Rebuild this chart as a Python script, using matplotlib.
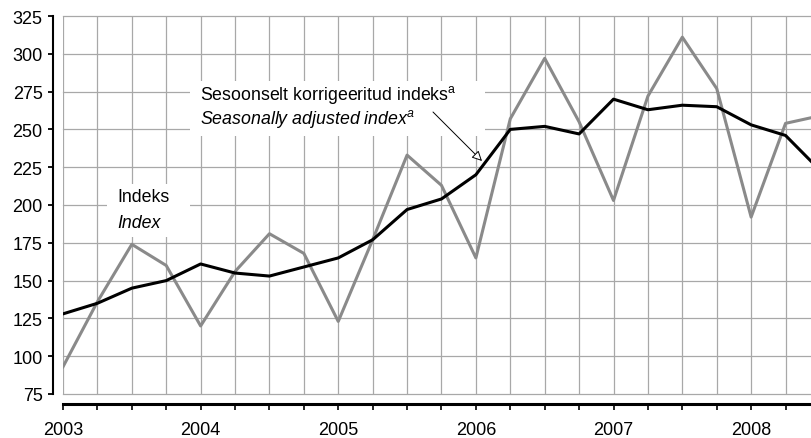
import matplotlib
matplotlib.use('Agg')
from matplotlib import pyplot as plt
from matplotlib.patches import Rectangle

plt.rcParams['font.family'] = ['Liberation Sans', 'DejaVu Sans']
plt.rcParams['mathtext.fontset'] = 'custom'
plt.rcParams['mathtext.rm'] = 'Liberation Sans'
plt.rcParams['mathtext.it'] = 'Liberation Sans:italic'

# quarterly data 2003 Q1 .. 2008 Q3
years = ['2003', '2004', '2005', '2006', '2007', '2008']
index_vals = [93, 136, 174, 160, 120, 156, 181, 168, 123, 177, 233, 213,
              165, 257, 297, 255, 203, 272, 311, 277, 192, 254, 259]
adjusted_vals = [128, 135, 145, 150, 161, 155, 153, 159, 165, 177, 197, 204,
                 220, 250, 252, 247, 270, 263, 266, 265, 253, 246, 223]

W, H = 811, 439
FS = 12.8


def px(x, y):
    # pixel position -> figure fraction
    return x / W, 1 - y / H


fig = plt.figure(figsize=(W / 100, H / 100), dpi=100)
ax = fig.add_axes([63 / W, 1 - 395 / H, (811 - 63) / W, (395 - 17) / H])

q = list(range(len(index_vals)))
ax.plot(q, index_vals, color='#8a8a8a', lw=2.2, zorder=3)
ax.plot(q, adjusted_vals, color='black', lw=2.2, zorder=4)

ax.set_xlim(0, 21.74)
ax.set_ylim(75, 325)
yt = list(range(75, 326, 25))
xt = list(range(22))
ax.set_yticks(yt)
ax.set_xticks(xt)
ax.set_xticklabels([years[i // 4] if i % 4 == 0 else '' for i in xt])

# grid drawn by hand so it stays inside the plot area
for v in xt:
    ax.axvline(v, color='#a8a8a8', lw=0.9, zorder=0.5)
for v in yt:
    ax.axhline(v, color='#a8a8a8', lw=0.9, zorder=0.5, clip_on=False)

for s in ['top', 'right']:
    ax.spines[s].set_visible(False)
ax.spines['left'].set_position(('outward', 7.2))
ax.spines['left'].set_linewidth(1.5)
ax.spines['bottom'].set_position(('outward', 7.2))
ax.spines['bottom'].set_linewidth(2.2)

ax.tick_params(axis='y', length=3.5, width=1.3, pad=4, labelsize=13)
ax.tick_params(axis='x', length=4.5, width=1.2, pad=8, labelsize=13)

# white boxes behind the labels
for (x0, y0, x1, y1) in [(190, 82, 485, 137), (107, 185, 190, 238)]:
    ax.add_patch(Rectangle(px(x0, y1), (x1 - x0) / W, (y1 - y0) / H,
                           transform=fig.transFigure, facecolor='white',
                           edgecolor='none', zorder=2))

fig.text(*px(200, 95), r'Sesoonselt korrigeeritud indeks$^{\mathrm{a}}$',
         fontsize=FS, va='center', ha='left')
fig.text(*px(200, 119), r'Seasonally adjusted index$^{a}$',
         fontsize=FS, va='center', ha='left', style='italic')
fig.text(*px(117, 198), 'Indeks', fontsize=FS, va='center', ha='left')
fig.text(*px(117, 223), 'Index', fontsize=FS, va='center', ha='left',
         style='italic')

ax.annotate('', xy=px(482, 162), xytext=px(433, 113),
            xycoords='figure fraction', textcoords='figure fraction',
            arrowprops=dict(arrowstyle='-|>', fc='white', ec='black',
                            lw=0.7, mutation_scale=15, shrinkA=0, shrinkB=0),
            zorder=5)

fig.savefig('out.png', dpi=100)
